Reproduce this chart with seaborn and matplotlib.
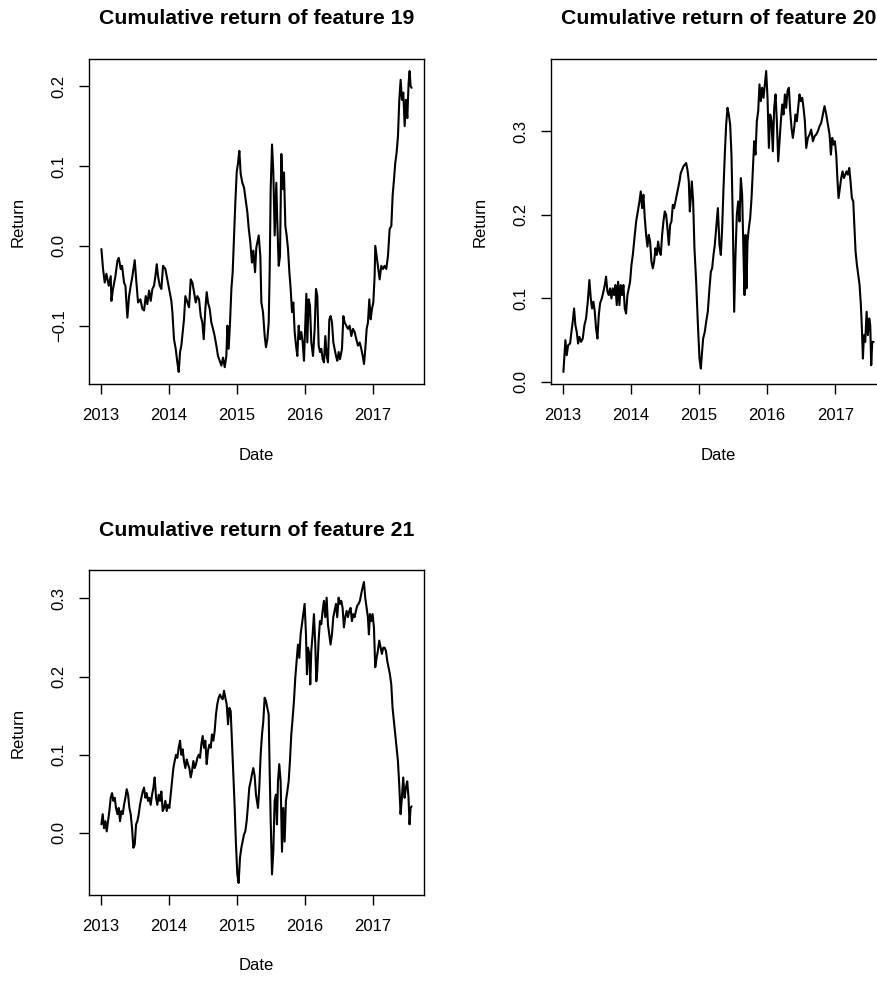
import matplotlib
matplotlib.use("Agg")
import matplotlib.pyplot as plt
import seaborn as sns
import pandas as pd

# ---------------- data ----------------
year_ticks = [2013, 2014, 2015, 2016, 2017]
year_labels = ["2013", "2014", "2015", "2016", "2017"]

titles = ["Cumulative return of feature 19",
          "Cumulative return of feature 20",
          "Cumulative return of feature 21"]

f19_yticks = [-0.1, 0.0, 0.1, 0.2]
f20_yticks = [0.0, 0.1, 0.2, 0.3]
f21_yticks = [0.0, 0.1, 0.2, 0.3]

f19_year = [
    2013.010, 2013.034, 2013.059, 2013.083, 2013.118, 2013.147, 2013.157, 2013.181, 2013.216, 2013.245,
    2013.265, 2013.294, 2013.314, 2013.343, 2013.363, 2013.392, 2013.417, 2013.441, 2013.466, 2013.500,
    2013.525, 2013.549, 2013.583, 2013.613, 2013.637, 2013.662, 2013.686, 2013.711, 2013.735, 2013.760,
    2013.784, 2013.804, 2013.824, 2013.843, 2013.868, 2013.892, 2013.917, 2013.951, 2013.980, 2014.015,
    2014.039, 2014.054, 2014.078, 2014.103, 2014.127, 2014.147, 2014.167, 2014.186, 2014.211, 2014.225,
    2014.245, 2014.275, 2014.299, 2014.324, 2014.348, 2014.373, 2014.397, 2014.422, 2014.446, 2014.471,
    2014.495, 2014.515, 2014.539, 2014.559, 2014.578, 2014.603, 2014.627, 2014.652, 2014.676, 2014.701,
    2014.725, 2014.750, 2014.775, 2014.799, 2014.824, 2014.848, 2014.863, 2014.882, 2014.902, 2014.922,
    2014.941, 2014.961, 2014.980, 2015.000, 2015.020, 2015.039, 2015.059, 2015.083, 2015.108, 2015.132,
    2015.157, 2015.176, 2015.201, 2015.225, 2015.245, 2015.270, 2015.289, 2015.324, 2015.348, 2015.363,
    2015.387, 2015.412, 2015.431, 2015.451, 2015.471, 2015.485, 2015.500, 2015.520, 2015.539, 2015.559,
    2015.583, 2015.598, 2015.618, 2015.637, 2015.657, 2015.676, 2015.696, 2015.716, 2015.735, 2015.755,
    2015.775, 2015.794, 2015.814, 2015.833, 2015.853, 2015.873, 2015.892, 2015.912, 2015.931, 2015.951,
    2015.971, 2015.990, 2016.010, 2016.025, 2016.039, 2016.059, 2016.078, 2016.098, 2016.123, 2016.147,
    2016.167, 2016.186, 2016.206, 2016.225, 2016.245, 2016.265, 2016.284, 2016.304, 2016.324, 2016.343,
    2016.363, 2016.382, 2016.402, 2016.422, 2016.441, 2016.461, 2016.480, 2016.500, 2016.520, 2016.549,
    2016.569, 2016.588, 2016.613, 2016.637, 2016.662, 2016.686, 2016.711, 2016.735, 2016.760, 2016.784,
    2016.809, 2016.833, 2016.858, 2016.873, 2016.892, 2016.912, 2016.931, 2016.951, 2016.971, 2016.990,
    2017.010, 2017.029, 2017.039, 2017.059, 2017.078, 2017.103, 2017.127, 2017.152, 2017.176, 2017.201,
    2017.225, 2017.250, 2017.275, 2017.294, 2017.314, 2017.333, 2017.353, 2017.373, 2017.392, 2017.412,
    2017.431, 2017.451, 2017.471, 2017.490, 2017.510, 2017.529, 2017.544, 2017.559, 2017.573,
]
f19_ret = [
    -0.004, -0.029, -0.046, -0.035, -0.050, -0.038, -0.069, -0.054, -0.038, -0.019,
    -0.015, -0.029, -0.025, -0.046, -0.050, -0.090, -0.063, -0.050, -0.038, -0.018,
    -0.046, -0.071, -0.067, -0.079, -0.081, -0.063, -0.073, -0.056, -0.069, -0.054,
    -0.050, -0.038, -0.023, -0.038, -0.050, -0.054, -0.025, -0.029, -0.042, -0.058,
    -0.069, -0.083, -0.117, -0.129, -0.146, -0.158, -0.133, -0.125, -0.104, -0.092,
    -0.063, -0.071, -0.077, -0.042, -0.046, -0.058, -0.071, -0.063, -0.067, -0.088,
    -0.096, -0.117, -0.079, -0.058, -0.071, -0.079, -0.096, -0.104, -0.113, -0.125,
    -0.138, -0.144, -0.150, -0.140, -0.152, -0.138, -0.100, -0.129, -0.096, -0.054,
    -0.033, 0.013, 0.054, 0.092, 0.104, 0.119, 0.090, 0.079, 0.073, 0.058,
    0.042, 0.023, 0.004, -0.021, -0.006, -0.033, -0.002, 0.013, -0.013, -0.071,
    -0.083, -0.113, -0.127, -0.117, -0.096, -0.033, 0.071, 0.127, 0.092, 0.013,
    0.079, 0.029, -0.025, -0.013, 0.115, 0.071, 0.092, 0.025, 0.013, -0.004,
    -0.033, -0.054, -0.083, -0.071, -0.108, -0.125, -0.138, -0.100, -0.117, -0.108,
    -0.121, -0.144, -0.096, -0.060, -0.121, -0.067, -0.075, -0.121, -0.138, -0.104,
    -0.054, -0.063, -0.125, -0.133, -0.129, -0.142, -0.146, -0.113, -0.138, -0.146,
    -0.092, -0.088, -0.096, -0.121, -0.129, -0.138, -0.144, -0.133, -0.142, -0.129,
    -0.088, -0.096, -0.100, -0.104, -0.100, -0.113, -0.104, -0.108, -0.117, -0.125,
    -0.121, -0.129, -0.140, -0.148, -0.129, -0.104, -0.096, -0.067, -0.092, -0.079,
    -0.071, -0.038, 0.000, -0.013, -0.025, -0.042, -0.025, -0.029, -0.025, -0.029,
    -0.013, 0.021, 0.025, 0.063, 0.083, 0.104, 0.117, 0.138, 0.183, 0.208,
    0.183, 0.192, 0.150, 0.183, 0.160, 0.204, 0.219, 0.200, 0.198,
]

f20_year = [
    2013.005, 2013.034, 2013.054, 2013.074, 2013.103, 2013.123, 2013.142, 2013.162, 2013.181, 2013.201,
    2013.221, 2013.240, 2013.265, 2013.289, 2013.314, 2013.338, 2013.363, 2013.387, 2013.407, 2013.426,
    2013.446, 2013.466, 2013.485, 2013.505, 2013.525, 2013.544, 2013.569, 2013.593, 2013.613, 2013.632,
    2013.652, 2013.672, 2013.691, 2013.711, 2013.730, 2013.750, 2013.770, 2013.789, 2013.809, 2013.828,
    2013.848, 2013.868, 2013.887, 2013.907, 2013.926, 2013.946, 2013.966, 2013.985, 2014.005, 2014.025,
    2014.049, 2014.074, 2014.098, 2014.123, 2014.142, 2014.162, 2014.181, 2014.201, 2014.221, 2014.240,
    2014.260, 2014.279, 2014.299, 2014.319, 2014.338, 2014.358, 2014.377, 2014.397, 2014.417, 2014.436,
    2014.456, 2014.475, 2014.495, 2014.515, 2014.534, 2014.554, 2014.574, 2014.593, 2014.613, 2014.632,
    2014.652, 2014.672, 2014.691, 2014.711, 2014.730, 2014.750, 2014.770, 2014.789, 2014.809, 2014.828,
    2014.848, 2014.863, 2014.877, 2014.892, 2014.912, 2014.931, 2014.956, 2014.980, 2015.005, 2015.025,
    2015.039, 2015.059, 2015.083, 2015.103, 2015.127, 2015.152, 2015.172, 2015.191, 2015.211, 2015.230,
    2015.250, 2015.275, 2015.299, 2015.319, 2015.338, 2015.358, 2015.377, 2015.397, 2015.417, 2015.436,
    2015.456, 2015.475, 2015.495, 2015.515, 2015.534, 2015.554, 2015.574, 2015.593, 2015.613, 2015.632,
    2015.652, 2015.667, 2015.681, 2015.696, 2015.711, 2015.730, 2015.750, 2015.770, 2015.789, 2015.809,
    2015.828, 2015.848, 2015.868, 2015.887, 2015.907, 2015.926, 2015.946, 2015.966, 2015.985, 2016.005,
    2016.025, 2016.044, 2016.064, 2016.083, 2016.103, 2016.123, 2016.142, 2016.162, 2016.181, 2016.201,
    2016.221, 2016.240, 2016.260, 2016.279, 2016.299, 2016.319, 2016.338, 2016.358, 2016.377, 2016.397,
    2016.417, 2016.436, 2016.456, 2016.475, 2016.495, 2016.515, 2016.534, 2016.554, 2016.574, 2016.598,
    2016.623, 2016.647, 2016.672, 2016.696, 2016.721, 2016.745, 2016.770, 2016.794, 2016.819, 2016.843,
    2016.868, 2016.892, 2016.917, 2016.936, 2016.956, 2016.975, 2016.995, 2017.015, 2017.034, 2017.049,
    2017.069, 2017.088, 2017.108, 2017.127, 2017.147, 2017.167, 2017.186, 2017.206, 2017.225, 2017.245,
    2017.265, 2017.279, 2017.299, 2017.319, 2017.338, 2017.358, 2017.377, 2017.392, 2017.407, 2017.422,
    2017.441, 2017.461, 2017.480, 2017.500, 2017.515, 2017.529, 2017.544, 2017.564,
]
f20_ret = [
    0.012, 0.050, 0.032, 0.044, 0.046, 0.060, 0.072, 0.088, 0.068, 0.060,
    0.046, 0.054, 0.048, 0.052, 0.068, 0.076, 0.096, 0.122, 0.100, 0.088,
    0.096, 0.084, 0.064, 0.052, 0.080, 0.094, 0.100, 0.108, 0.116, 0.126,
    0.108, 0.104, 0.112, 0.100, 0.112, 0.104, 0.116, 0.092, 0.120, 0.092,
    0.116, 0.104, 0.116, 0.088, 0.082, 0.104, 0.112, 0.120, 0.140, 0.152,
    0.172, 0.192, 0.204, 0.216, 0.228, 0.208, 0.224, 0.196, 0.176, 0.162,
    0.176, 0.168, 0.144, 0.136, 0.144, 0.160, 0.152, 0.168, 0.156, 0.152,
    0.176, 0.192, 0.204, 0.200, 0.184, 0.164, 0.188, 0.192, 0.212, 0.208,
    0.216, 0.224, 0.232, 0.240, 0.250, 0.254, 0.258, 0.260, 0.262, 0.254,
    0.240, 0.204, 0.220, 0.240, 0.216, 0.160, 0.120, 0.072, 0.028, 0.016,
    0.032, 0.052, 0.060, 0.072, 0.084, 0.112, 0.132, 0.136, 0.152, 0.164,
    0.184, 0.208, 0.164, 0.152, 0.184, 0.232, 0.272, 0.308, 0.328, 0.320,
    0.308, 0.272, 0.192, 0.084, 0.152, 0.200, 0.216, 0.192, 0.244, 0.224,
    0.152, 0.104, 0.176, 0.112, 0.168, 0.184, 0.196, 0.220, 0.252, 0.288,
    0.272, 0.312, 0.324, 0.356, 0.336, 0.352, 0.340, 0.356, 0.372, 0.340,
    0.280, 0.320, 0.312, 0.276, 0.328, 0.344, 0.312, 0.264, 0.288, 0.312,
    0.332, 0.320, 0.344, 0.328, 0.348, 0.352, 0.324, 0.304, 0.292, 0.304,
    0.320, 0.312, 0.328, 0.344, 0.336, 0.340, 0.328, 0.312, 0.280, 0.292,
    0.296, 0.302, 0.288, 0.294, 0.296, 0.300, 0.306, 0.310, 0.320, 0.330,
    0.320, 0.308, 0.296, 0.272, 0.292, 0.284, 0.288, 0.272, 0.240, 0.220,
    0.232, 0.244, 0.252, 0.244, 0.248, 0.252, 0.248, 0.256, 0.240, 0.220,
    0.216, 0.192, 0.156, 0.140, 0.128, 0.116, 0.092, 0.064, 0.028, 0.056,
    0.048, 0.084, 0.056, 0.076, 0.068, 0.020, 0.048, 0.048,
]

f21_year = [
    2013.010, 2013.029, 2013.049, 2013.069, 2013.088, 2013.108, 2013.127, 2013.147, 2013.167, 2013.186,
    2013.206, 2013.225, 2013.245, 2013.265, 2013.284, 2013.304, 2013.324, 2013.343, 2013.363, 2013.382,
    2013.402, 2013.422, 2013.441, 2013.461, 2013.480, 2013.500, 2013.520, 2013.539, 2013.559, 2013.578,
    2013.598, 2013.618, 2013.637, 2013.657, 2013.676, 2013.696, 2013.716, 2013.735, 2013.755, 2013.775,
    2013.794, 2013.814, 2013.833, 2013.853, 2013.873, 2013.892, 2013.912, 2013.931, 2013.951, 2013.971,
    2013.990, 2014.010, 2014.029, 2014.049, 2014.069, 2014.088, 2014.108, 2014.127, 2014.147, 2014.167,
    2014.186, 2014.206, 2014.225, 2014.245, 2014.265, 2014.284, 2014.304, 2014.324, 2014.343, 2014.363,
    2014.382, 2014.402, 2014.422, 2014.441, 2014.461, 2014.480, 2014.500, 2014.520, 2014.539, 2014.559,
    2014.578, 2014.598, 2014.618, 2014.637, 2014.657, 2014.676, 2014.696, 2014.716, 2014.735, 2014.755,
    2014.775, 2014.794, 2014.814, 2014.833, 2014.853, 2014.873, 2014.892, 2014.912, 2014.931, 2014.951,
    2014.971, 2014.990, 2015.010, 2015.029, 2015.049, 2015.069, 2015.088, 2015.108, 2015.127, 2015.147,
    2015.167, 2015.186, 2015.206, 2015.225, 2015.245, 2015.265, 2015.284,
    2015.314, 2015.333, 2015.353, 2015.373, 2015.392, 2015.412, 2015.431, 2015.451, 2015.471, 2015.485,
    2015.500, 2015.520, 2015.539, 2015.559, 2015.578, 2015.593, 2015.608, 2015.627, 2015.647, 2015.667,
    2015.686, 2015.706, 2015.725, 2015.745, 2015.765, 2015.784, 2015.804, 2015.824, 2015.843, 2015.863,
    2015.882, 2015.902, 2015.922, 2015.941, 2015.961, 2015.980, 2016.000, 2016.020, 2016.034, 2016.049,
    2016.069, 2016.083, 2016.098, 2016.118, 2016.137, 2016.157, 2016.172, 2016.186, 2016.206, 2016.225,
    2016.245, 2016.265, 2016.284, 2016.304, 2016.324, 2016.343, 2016.363, 2016.382, 2016.402, 2016.422,
    2016.441, 2016.461, 2016.480, 2016.500, 2016.520, 2016.539, 2016.559, 2016.578, 2016.598, 2016.618,
    2016.637, 2016.657, 2016.676, 2016.696, 2016.716, 2016.735, 2016.755, 2016.775, 2016.794, 2016.814,
    2016.833, 2016.853, 2016.873, 2016.892, 2016.912, 2016.931, 2016.946, 2016.961, 2016.980, 2017.000,
    2017.020, 2017.039, 2017.059, 2017.078, 2017.098, 2017.118, 2017.137, 2017.157, 2017.176, 2017.196,
    2017.216, 2017.235, 2017.255, 2017.275, 2017.294, 2017.314, 2017.333, 2017.353, 2017.373, 2017.392,
    2017.412, 2017.431, 2017.451, 2017.471, 2017.490, 2017.510, 2017.529, 2017.544, 2017.559, 2017.574,
]
f21_ret = [
    0.011, 0.024, 0.006, 0.015, 0.002, 0.015, 0.028, 0.045, 0.051, 0.041,
    0.045, 0.032, 0.024, 0.032, 0.015, 0.028, 0.024, 0.036, 0.045, 0.056,
    0.049, 0.032, 0.024, 0.006, -0.019, -0.015, 0.011, 0.015, 0.024, 0.036,
    0.045, 0.053, 0.058, 0.045, 0.051, 0.041, 0.045, 0.036, 0.049, 0.058,
    0.071, 0.045, 0.036, 0.049, 0.041, 0.053, 0.028, 0.032, 0.041, 0.028,
    0.036, 0.032, 0.049, 0.066, 0.083, 0.092, 0.100, 0.096, 0.109, 0.118,
    0.100, 0.107, 0.092, 0.083, 0.094, 0.088, 0.083, 0.071, 0.079, 0.092,
    0.083, 0.088, 0.096, 0.100, 0.096, 0.113, 0.124, 0.109, 0.118, 0.088,
    0.105, 0.113, 0.109, 0.126, 0.118, 0.130, 0.152, 0.165, 0.173, 0.177,
    0.173, 0.171, 0.182, 0.173, 0.165, 0.139, 0.160, 0.156, 0.118, 0.075,
    0.032, -0.015, -0.053, -0.064, -0.032, -0.019, -0.011, -0.002, 0.002, 0.015,
    0.036, 0.058, 0.066, 0.075, 0.083, 0.073, 0.049,
    0.032, 0.058, 0.100, 0.126, 0.143, 0.173, 0.169, 0.160, 0.152, 0.083,
    0.019, -0.053, -0.024, 0.041, 0.049, 0.011, 0.066, 0.088, 0.066, -0.024,
    0.032, -0.011, 0.041, 0.053, 0.066, 0.092, 0.126, 0.147, 0.169, 0.199,
    0.220, 0.241, 0.224, 0.254, 0.267, 0.280, 0.293, 0.254, 0.203, 0.237,
    0.229, 0.190, 0.233, 0.254, 0.280, 0.241, 0.194, 0.207, 0.246, 0.271,
    0.267, 0.284, 0.297, 0.276, 0.301, 0.267, 0.254, 0.241, 0.254, 0.276,
    0.284, 0.293, 0.276, 0.301, 0.293, 0.297, 0.288, 0.263, 0.276, 0.284,
    0.276, 0.284, 0.288, 0.271, 0.280, 0.276, 0.284, 0.291, 0.293, 0.297,
    0.306, 0.314, 0.321, 0.301, 0.288, 0.276, 0.254, 0.280, 0.271, 0.280,
    0.263, 0.212, 0.224, 0.233, 0.246, 0.237, 0.229, 0.237, 0.237, 0.233,
    0.220, 0.212, 0.203, 0.190, 0.160, 0.143, 0.126, 0.109, 0.092, 0.062,
    0.024, 0.045, 0.071, 0.045, 0.058, 0.066, 0.045, 0.011, 0.032, 0.034,
]

assert len(f19_year) == len(f19_ret)
assert len(f20_year) == len(f20_ret)
assert len(f21_year) == len(f21_ret)

# ---------------- style ----------------
sns.set_style("white")
plt.rcParams["font.family"] = ["Liberation Sans", "DejaVu Sans"]
plt.rcParams.update({
    "axes.edgecolor": "black",
    "axes.linewidth": 1.0,
    "xtick.color": "black",
    "ytick.color": "black",
    "xtick.direction": "out",
    "ytick.direction": "out",
    "xtick.major.size": 7,
    "ytick.major.size": 7,
    "xtick.major.width": 1.0,
    "ytick.major.width": 1.0,
    "xtick.bottom": True,
    "ytick.left": True,
    "xtick.labelsize": 12,
    "ytick.labelsize": 12,
    "axes.labelsize": 12,
    "text.color": "black",
    "axes.labelcolor": "black",
})

W, H = 878, 981
fig = plt.figure(figsize=(W / 100, H / 100), dpi=100)
fig.patch.set_facecolor("white")


def px_rect(left, top, right, bottom):
    return [left / W, 1 - bottom / H, (right - left) / W, (bottom - top) / H]


# (title, x, y, yticks, box in px: left, top, right, bottom, title centre y, ylabel centre x)
panels = [
    (titles[0], f19_year, f19_ret, f19_yticks, (89, 59, 424, 384), 19, 18),
    (titles[1], f20_year, f20_ret, f20_yticks, (551, 59, 886, 384), 19, 480),
    (titles[2], f21_year, f21_ret, f21_yticks, (89, 570, 424, 895), 530, 18),
]

for title, yrs, rets, yt, box, title_y, ylab_x in panels:
    left, top, right, bottom = box
    box_w = right - left
    box_h = bottom - top
    ax = fig.add_axes(px_rect(*box))
    df = pd.DataFrame({"Date": yrs, "Return": rets})
    sns.lineplot(data=df, x="Date", y="Return", ax=ax, color="black",
                 linewidth=1.5, estimator=None, sort=False)
    ax.margins(x=0.04, y=0.04)
    ax.set_xticks(year_ticks)
    ax.set_xticklabels(year_labels)
    ax.set_yticks(yt)
    ax.tick_params(axis="x", pad=10)
    ax.tick_params(axis="y", pad=9, labelrotation=90)
    for lab in ax.get_yticklabels():
        lab.set_verticalalignment("center")
    for sp in ax.spines.values():
        sp.set_visible(True)
        sp.set_color("black")
    ax.set_title(title, fontsize=15.3, fontweight="bold",
                 y=1 + (top - title_y) / box_h, va="center", pad=0)
    ax.set_xlabel("Date", fontsize=12, va="center")
    ax.xaxis.set_label_coords(0.5, -(455 - 384) / box_h)
    ax.set_ylabel("Return", fontsize=12, va="center")
    ax.yaxis.set_label_coords(-(left - ylab_x) / box_w, 0.5)

fig.savefig("out.png", dpi=100, facecolor="white")
